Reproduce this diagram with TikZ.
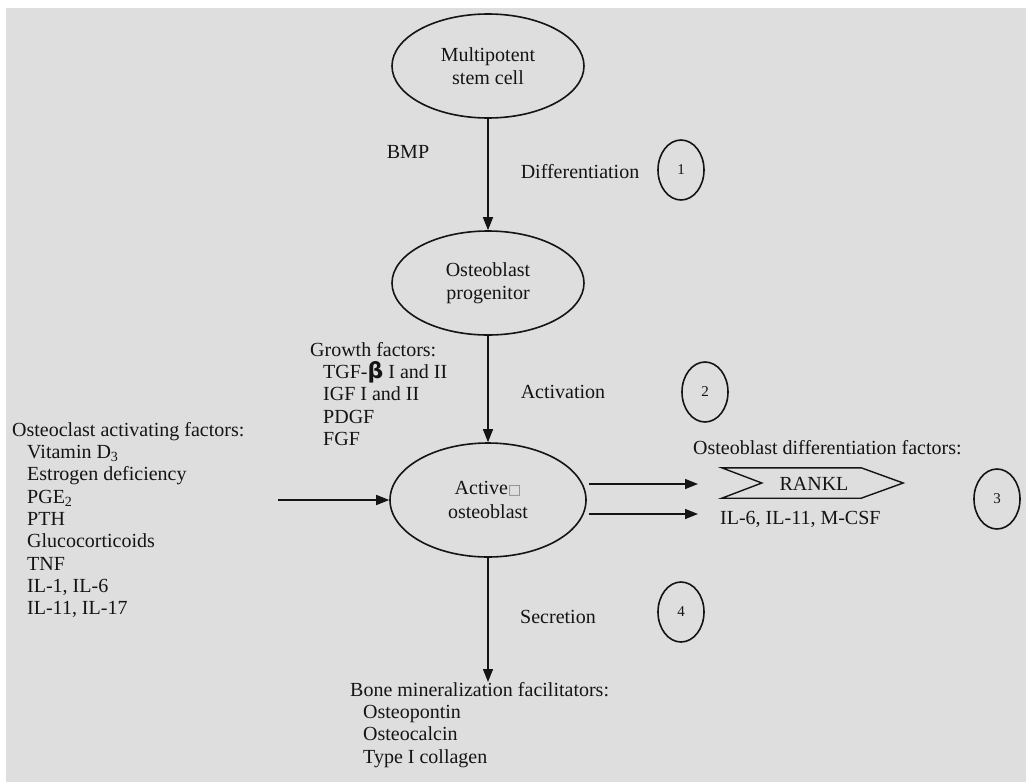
\documentclass[tikz,border=0pt]{standalone}
\usepackage{fontspec}
\setmainfont{Liberation Serif}
\newfontfamily\dejavu{DejaVu Sans}
\usetikzlibrary{shapes.geometric,arrows.meta,calc}
\definecolor{bggray}{RGB}{222,222,222}
\definecolor{ink}{RGB}{20,20,20}
\begin{document}
\begin{tikzpicture}[x=1pt,y=-1pt,
  every node/.style={font=\fontsize{20}{22.3}\selectfont, text=ink, inner sep=0pt},
  cell/.style={ellipse, draw=ink, line width=1.6pt, minimum width=192pt, minimum height=104pt, align=center},
  stepnum/.style={ellipse, draw=ink, line width=1.6pt, minimum width=46pt, minimum height=60pt, font=\fontsize{15}{18}\selectfont},
  flow/.style={draw=ink, line width=1.4pt, -{Triangle[length=13pt,width=10pt]}},
  listtext/.style={align=left, anchor=north west}
]
\useasboundingbox (0,0) rectangle (1026,782);
\fill[white] (0,0) rectangle (1026,782);
\fill[bggray] (6,8) rectangle (1026,782);

% main cells
\node[cell] (ms) at (488,66) {Multipotent\\[1pt]stem cell};
\node[cell] (op) at (488,283) {Osteoblast\\[1pt]progenitor};
\node[cell, minimum width=196pt, minimum height=114pt] (ao) at (488,500) {Active{\color{gray}\dejavu\fontsize{14}{15}\selectfont □}\\[1pt]osteoblast};

% step labels
\node (bmp) at (408,152) {BMP};
\node (diff) at (580,172) {Differentiation};
\node[stepnum] (s1) at (681,170) {1};
\node (act) at (563,392) {Activation};
\node[stepnum] (s2) at (705,392) {2};
\node (sec) at (558,617) {Secretion};
\node[stepnum] (s4) at (681,612) {4};
\node[stepnum] (s3) at (997,499) {3};

% growth factors
\node[listtext] (gf) at (310,342) {Growth factors:\\
\hspace*{13pt}TGF-{\dejavu\bfseries\fontsize{22}{22.3}\selectfont β} I and II\\
\hspace*{13pt}IGF I and II\\
\hspace*{13pt}PDGF\\
\hspace*{13pt}FGF};

% osteoclast activating factors
\node[listtext] (oaf) at (12,422) {Osteoclast activating factors:\\
\hspace*{15pt}Vitamin D\textsubscript{3}\\
\hspace*{15pt}Estrogen deficiency\\
\hspace*{15pt}PGE\textsubscript{2}\\
\hspace*{15pt}PTH\\
\hspace*{15pt}Glucocorticoids\\
\hspace*{15pt}TNF\\
\hspace*{15pt}IL-1, IL-6\\
\hspace*{15pt}IL-11, IL-17};

% osteoblast differentiation factors
\node[anchor=west] (odf) at (693,448) {Osteoblast differentiation factors:};
\node[minimum width=139pt, minimum height=30pt] (rankl) at (791.5,483) {};
\node (ranklt) at (814,484) {RANKL};
\draw[ink, line width=1.4pt, line join=miter]
  (rankl.north west) -- (rankl.north east) -- ($(rankl.east)+(42,0)$)
  -- (rankl.south east) -- (rankl.south west) -- ($(rankl.west)+(40,0)$) -- cycle;
\node[anchor=west] (ilm) at (720,519) {IL-6, IL-11, M-CSF};

% bone mineralization facilitators
\node[listtext] (bmf) at (350,682) {Bone mineralization facilitators:\\
\hspace*{13pt}Osteopontin\\
\hspace*{13pt}Osteocalcin\\
\hspace*{13pt}Type I collagen};

% connectors
\coordinate (lin) at (278,500);
\coordinate (r1) at (698,484);
\coordinate (r2) at (698,514);
\coordinate (r1s) at (589,484);
\coordinate (r2s) at (589,514);
\draw[flow] (ms.south) -- (op.north);
\draw[flow] (op.south) -- (ao.north);
\draw[flow] (lin) -- (ao.west);
\draw[flow] (r1s) -- (r1);
\draw[flow] (r2s) -- (r2);
\draw[flow] (ao.south) -- (ao.south |- bmf.north);
\end{tikzpicture}
\end{document}
